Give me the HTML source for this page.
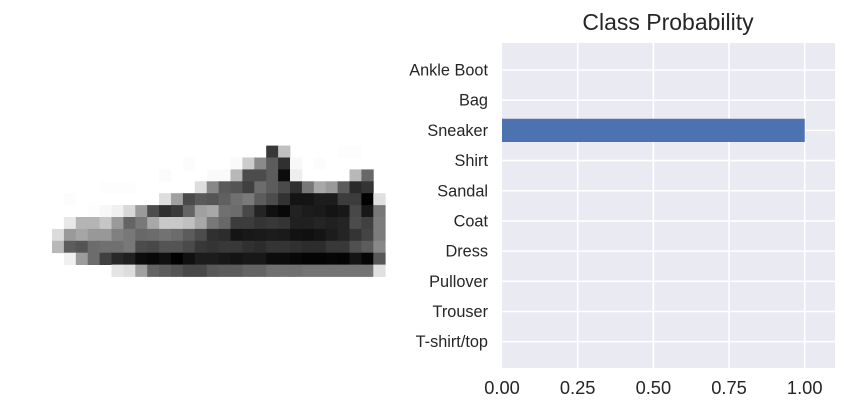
<!DOCTYPE html>
<html><head><meta charset="utf-8"><style>
html,body{margin:0;padding:0;background:#fff;}
svg{display:block;font-family:"Liberation Sans",Arial,sans-serif;}
</style></head><body>
<svg id="fig" width="849" height="420" viewBox="0 0 849 420" xmlns="http://www.w3.org/2000/svg">
<g id="img"></g>
<rect x="502" y="43" width="333" height="325" fill="#eaeaf2"/>
<g id="grid"></g>
<g id="bars"></g>
<g id="ylabels"></g>
<g id="xlabels"></g>
<text x="668" y="30" font-size="23" fill="#262626" text-anchor="middle">Class Probability</text>
</svg>
<script>
const categories = ["T-shirt/top","Trouser","Pullover","Dress","Coat","Sandal","Shirt","Sneaker","Bag","Ankle Boot"];
const probabilities = [0,0,0,0,0,0,0,1,0,0];
const xTicks = [0,0.25,0.5,0.75,1.0];
const xTickLabels = ["0.00","0.25","0.50","0.75","1.00"];
const imageRowStart = 9;
const pixelRows = [
["ff","ff","ff","ff","ff","ff","ff","ff","ff","ff","ff","ff","ff","ff","ff","ff","ff","ff","38","c0","ff","ff","ff","ff","fd","fd","ff","ff"],
["ff","ff","ff","ff","ff","ff","ff","ff","ff","ff","ff","fc","ff","ff","ff","fa","cc","8a","5c","30","f8","ff","fc","ff","ff","ff","ff","ff"],
["ff","ff","ff","ff","ff","ff","ff","ff","ff","fb","ff","ff","ff","fa","fa","b8","4c","4c","5c","0c","ee","ff","ff","ff","ff","b8","68","ff"],
["ff","ff","ff","ff","fd","fd","fd","ff","ff","ff","ff","ff","dd","88","5a","54","40","6c","5c","4a","30","78","a8","9a","5c","2a","34","ff"],
["ff","fc","ff","ff","ff","ff","ff","ff","ff","dd","a0","4a","5a","55","60","70","7a","5c","4c","32","14","14","1c","1c","3c","3c","02","e0"],
["ff","ff","ff","fd","f8","f0","d8","9a","4c","2e","3a","64","a0","a8","70","6c","48","24","10","08","22","1c","1a","14","18","48","18","78"],
["ff","e8","b4","b4","c6","9a","64","78","a8","c8","c8","c0","a8","78","68","3c","3c","34","38","34","20","20","24","20","24","4c","40","7c"],
["dc","9a","a6","98","98","80","78","68","6c","72","6c","5c","4c","30","2c","14","18","1a","1c","1a","12","10","14","1c","24","34","44","7c"],
["b8","5c","54","6c","70","70","78","4c","48","54","54","4a","38","34","38","38","30","2c","34","34","30","2c","2c","38","38","50","5c","88"],
["ff","f0","9c","6c","40","28","20","0c","08","10","00","10","1c","1c","18","14","18","18","0c","0c","08","04","04","06","04","14","06","58"],
["ff","ff","ff","ff","ff","e4","dc","a0","64","5c","54","48","48","58","5c","5c","64","64","70","70","70","74","74","74","74","74","74","e0"]
];
const NS="http://www.w3.org/2000/svg";
function mk(t,a,p){const e=document.createElementNS(NS,t);for(const k in a)e.setAttribute(k,a[k]);p.appendChild(e);return e;}
const img=document.getElementById('img');
const ix0=52, iy0=38.5, ps=11.9;
pixelRows.forEach((row,r)=>{row.forEach((h,c)=>{
  if(h==="ff")return;
  const e=mk('rect',{x:(ix0+c*ps).toFixed(2),y:(iy0+(imageRowStart+r)*ps).toFixed(2),width:(ps+0.4).toFixed(2),height:(ps+0.4).toFixed(2),fill:'#'+h+h+h},img);
  
  
});});
const X0=502, XMAX=1.1, PW=333;
const xs=v=>X0+v/XMAX*PW;
const Y0=341.7, STEP=30.19;
const ys=i=>Y0-i*STEP;
const grid=document.getElementById('grid');
xTicks.forEach(t=>{if(t===0)return;const e=mk('line',{x1:xs(t),x2:xs(t),y1:43,y2:368,stroke:'#fff','stroke-width':1.6},grid);

});
categories.forEach((c,i)=>{const e=mk('line',{x1:502,x2:835,y1:ys(i),y2:ys(i),stroke:'#fff','stroke-width':1.6},grid);

});
const bars=document.getElementById('bars');
const bh=0.77*STEP;
probabilities.forEach((p,i)=>{if(p<=0)return;const e=mk('rect',{x:xs(0),y:ys(i)-bh/2,width:xs(p)-xs(0),height:bh,fill:'#4c72b0'},bars);

});
const yl=document.getElementById('ylabels');
categories.forEach((c,i)=>{const e=mk('text',{x:488,y:ys(i)+5.5,'font-size':16.3,fill:'#262626','text-anchor':'end'},yl);e.textContent=c;

});
const xl=document.getElementById('xlabels');
xTicks.forEach((t,i)=>{const e=mk('text',{x:xs(t),y:394,'font-size':18.3,fill:'#262626','text-anchor':'middle'},xl);e.textContent=xTickLabels[i];

});
</script>
</body></html>
